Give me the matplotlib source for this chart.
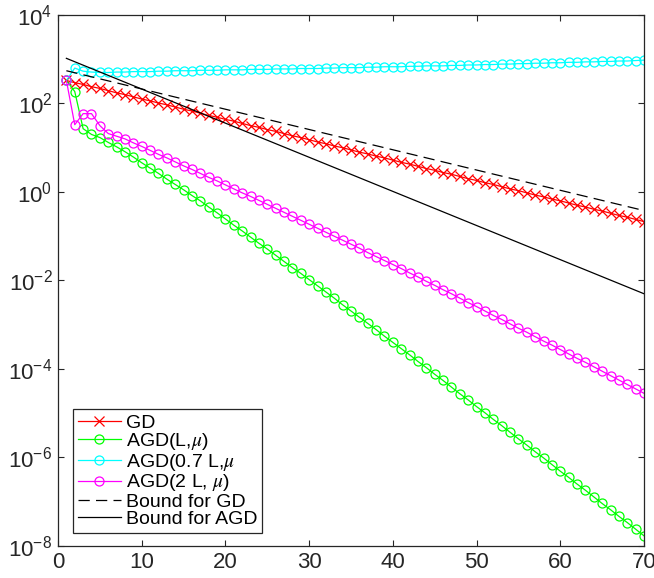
import numpy as np
import matplotlib
matplotlib.use('Agg')
import matplotlib.pyplot as plt

# Итерации
iters = np.arange(1, 71)

# log10 значений
gd_log10 = [2.52, 2.47, 2.43, 2.38, 2.34, 2.29, 2.24, 2.20, 2.15, 2.10,
            2.06, 2.01, 1.97, 1.92, 1.87, 1.83, 1.78, 1.73, 1.69, 1.64,
            1.60, 1.55, 1.50, 1.46, 1.41, 1.37, 1.32, 1.27, 1.23, 1.18,
            1.13, 1.09, 1.04, 1.00, 0.95, 0.90, 0.86, 0.81, 0.77, 0.72,
            0.67, 0.63, 0.58, 0.53, 0.49, 0.44, 0.40, 0.35, 0.30, 0.26,
            0.21, 0.17, 0.12, 0.07, 0.03, -0.02, -0.07, -0.11, -0.16, -0.20,
            -0.25, -0.30, -0.34, -0.39, -0.43, -0.48, -0.53, -0.57, -0.62, -0.67]

agd_log10 = [2.52, 2.27, 1.43, 1.30, 1.23, 1.12, 1.02, 0.91, 0.79, 0.66,
             0.54, 0.42, 0.29, 0.17, 0.05, -0.08, -0.20, -0.34, -0.47, -0.61,
             -0.75, -0.88, -1.02, -1.16, -1.29, -1.43, -1.57, -1.71, -1.84, -1.98,
             -2.12, -2.26, -2.40, -2.55, -2.69, -2.83, -2.97, -3.11, -3.26, -3.40,
             -3.54, -3.68, -3.83, -3.97, -4.12, -4.26, -4.41, -4.56, -4.70, -4.85,
             -4.99, -5.14, -5.28, -5.43, -5.58, -5.72, -5.87, -6.01, -6.16, -6.31,
             -6.45, -6.60, -6.74, -6.89, -7.04, -7.18, -7.33, -7.47, -7.62, -7.77]

agd07_log10 = [2.52, 2.80, 2.73, 2.71, 2.70, 2.70, 2.71, 2.71, 2.72, 2.72,
               2.72, 2.73, 2.73, 2.74, 2.74, 2.74, 2.75, 2.75, 2.75, 2.76,
               2.76, 2.76, 2.77, 2.77, 2.77, 2.78, 2.78, 2.78, 2.79, 2.79,
               2.79, 2.80, 2.80, 2.81, 2.81, 2.81, 2.82, 2.82, 2.83, 2.83,
               2.83, 2.84, 2.84, 2.85, 2.85, 2.85, 2.86, 2.86, 2.87, 2.87,
               2.88, 2.88, 2.89, 2.89, 2.90, 2.90, 2.91, 2.91, 2.92, 2.92,
               2.93, 2.93, 2.94, 2.94, 2.95, 2.95, 2.96, 2.96, 2.97, 2.98]

agd2_log10 = [2.52, 1.52, 1.77, 1.77, 1.50, 1.32, 1.26, 1.20, 1.11, 1.03,
              0.94, 0.85, 0.77, 0.68, 0.59, 0.51, 0.42, 0.33, 0.25, 0.16,
              0.07, -0.02, -0.10, -0.19, -0.28, -0.37, -0.46, -0.55, -0.64, -0.73,
              -0.82, -0.91, -1.00, -1.09, -1.18, -1.27, -1.37, -1.46, -1.55, -1.64,
              -1.73, -1.83, -1.92, -2.02, -2.11, -2.21, -2.30, -2.40, -2.50, -2.59,
              -2.69, -2.79, -2.88, -2.98, -3.08, -3.17, -3.27, -3.37, -3.46, -3.56,
              -3.66, -3.76, -3.85, -3.95, -4.05, -4.15, -4.25, -4.35, -4.45, -4.55]

# Теоретические оценки (прямые в лог. масштабе)
bound_x = [1, 70]
bound_gd_log10 = [2.74, -0.42]
bound_agd_log10 = [3.02, -2.30]

labels = ['GD', r'AGD(L,$\mu$)', r'AGD(0.7 L,$\mu$', r'AGD(2 L, $\mu$)',
          'Bound for GD', 'Bound for AGD']

plt.rcParams['font.family'] = ['Liberation Sans', 'DejaVu Sans']
plt.rcParams['mathtext.fontset'] = 'stix'

fig = plt.figure(figsize=(6.54, 5.78), dpi=100)
ax = fig.add_axes([0.0887, 0.0554, 0.8960, 0.9187])

lw = 0.9
ms = 6.5
ax.plot(iters, 10 ** np.array(gd_log10), color='red', marker='x', ms=ms, lw=lw, mew=0.9, label=labels[0])
ax.plot(iters, 10 ** np.array(agd_log10), color='#00ff00', marker='o', ms=ms, lw=lw, mew=0.9, mfc='none', label=labels[1])
ax.plot(iters, 10 ** np.array(agd07_log10), color='cyan', marker='o', ms=ms, lw=lw, mew=0.9, mfc='none', label=labels[2])
ax.plot(iters, 10 ** np.array(agd2_log10), color='magenta', marker='o', ms=ms, lw=lw, mew=0.9, mfc='none', label=labels[3])
ax.plot(bound_x, 10 ** np.array(bound_gd_log10), color='black', lw=lw, dashes=(9, 5), label=labels[4])
ax.plot(bound_x, 10 ** np.array(bound_agd_log10), color='black', lw=lw, label=labels[5])

ax.set_yscale('log')
ax.set_xlim(0, 70)
ax.set_ylim(1e-8, 1e4)
ax.set_xticks(range(0, 71, 10))
ax.set_yticks([10.0 ** p for p in range(-8, 5, 2)])
ax.minorticks_off()
ax.tick_params(direction='in', length=4.5, width=0.8, top=True, right=True,
               labelsize=16, colors='#262626', pad=4)
for sp in ax.spines.values():
    sp.set_color('#262626')
    sp.set_linewidth(0.9)

leg = ax.legend(loc='lower left', bbox_to_anchor=(0.026, 0.025), borderaxespad=0,
                fontsize=14, labelspacing=-0.02, handlelength=2.2, handletextpad=0.25,
                borderpad=0.25, fancybox=False, framealpha=1, edgecolor='#262626')
leg.get_frame().set_linewidth(0.9)

plt.savefig('out.png', dpi=100)
